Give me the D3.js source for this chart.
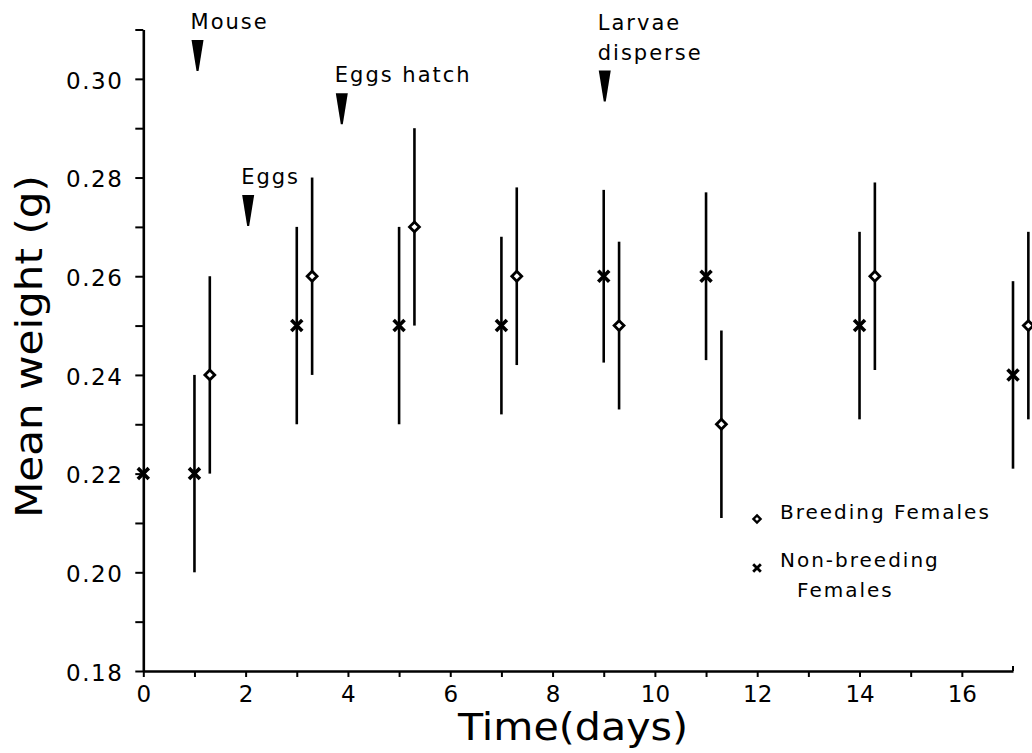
<!DOCTYPE html>
<html>
<head>
<meta charset="utf-8">
<script src="https://cdn.jsdelivr.net/npm/d3@7"></script>
<style>
  html, body { margin: 0; padding: 0; background: #fff; }
  svg { display: block; }
  text { font-family: "DejaVu Sans", sans-serif; fill: #000; }
</style>
</head>
<body>
<svg id="chart" width="1032" height="753"></svg>
<script>
// Mean body weight of females over time (days), with error bars
const nonBreedDays  = [0, 1, 3, 5, 7, 9, 11, 14, 17];
const nonBreedMean  = [0.22, 0.22, 0.25, 0.25, 0.25, 0.26, 0.26, 0.25, 0.24];
const nonBreedErr   = [0, 0.02, 0.02, 0.02, 0.018, 0.0175, 0.017, 0.019, 0.019];

const breedDays     = [1.3, 3.3, 5.3, 7.3, 9.3, 11.3, 14.3, 17.3];
const breedMean     = [0.24, 0.26, 0.27, 0.26, 0.25, 0.23, 0.26, 0.25];
const breedErr      = [0.02, 0.02, 0.02, 0.018, 0.017, 0.019, 0.019, 0.019];

const xTickLabels   = [0, 2, 4, 6, 8, 10, 12, 14, 16];
const yTickLabels   = [0.18, 0.20, 0.22, 0.24, 0.26, 0.28, 0.30];

// Event markers: label lines, day, and value at the arrow tip
const eventLabels   = [["Mouse"], ["Eggs"], ["Eggs hatch"], ["Larvae", "disperse"]];
const eventDays     = [1.06, 2.05, 3.88, 9.02];
const eventTips     = [0.3016, 0.2702, 0.2908, 0.2954];

const svg = d3.select("#chart");

const x = d3.scaleLinear().domain([0, 17]).range([143.3, 1013]);
const y = d3.scaleLinear().domain([0.18, 0.31]).range([671, 29.5]);

const AXIS_W = 2.6;

// ---- axes ----
const xAxis = d3.axisBottom(x)
  .tickValues(d3.range(0, 17))
  .tickSize(6).tickSizeOuter(0)
  .tickFormat(d => xTickLabels.includes(d) ? d : "");
const gx = svg.append("g").attr("transform", `translate(0,${y(0.18)})`).call(xAxis);
gx.select(".domain").attr("stroke", "#000").attr("stroke-width", AXIS_W);
gx.selectAll(".tick line").attr("stroke", "#000").attr("stroke-width", 2);
gx.selectAll(".tick text")
  .attr("y", 15)
  .style("font-size", "23px")
  .style("font-family", "'DejaVu Sans', sans-serif");
// end tick at day 17 pointing up
svg.append("line")
  .attr("x1", x(17)).attr("x2", x(17))
  .attr("y1", y(0.18)).attr("y2", y(0.18) - 5)
  .attr("stroke", "#000").attr("stroke-width", 2);

const yTicks = d3.range(18, 32).map(v => v / 100);
const yAxis = d3.axisLeft(y)
  .tickValues(yTicks)
  .tickSize(8).tickSizeOuter(0)
  .tickFormat(d => yTickLabels.some(v => Math.abs(v - d) < 1e-9) ? d3.format(".2f")(d) : "");
const gy = svg.append("g").attr("transform", `translate(${x(0)},0)`).call(yAxis);
gy.select(".domain").attr("stroke", "#000").attr("stroke-width", AXIS_W);
gy.selectAll(".tick line").attr("stroke", "#000").attr("stroke-width", 2);
gy.selectAll(".tick text")
  .attr("x", -20)
  .attr("dy", "0.4em")
  .style("font-size", "23px")
  .style("letter-spacing", "1.5px")
  .style("font-family", "'DejaVu Sans', sans-serif");

// ---- axis titles ----
svg.append("text")
  .attr("x", 458).attr("y", 740)
  .attr("textLength", 230).attr("lengthAdjust", "spacingAndGlyphs")
  .style("font-size", "37px")
  .text("Time(days)");

svg.append("text")
  .attr("transform", "translate(42,346.5) rotate(-90)")
  .attr("text-anchor", "middle")
  .attr("textLength", 343).attr("lengthAdjust", "spacingAndGlyphs")
  .style("font-size", "38px")
  .text("Mean weight (g)");

// ---- error bars ----
function errorBars(days, mean, err) {
  svg.append("g").selectAll("line")
    .data(days.map((d, i) => ({ d, m: mean[i], e: err[i] })).filter(p => p.e > 0))
    .join("line")
    .attr("x1", p => x(p.d)).attr("x2", p => x(p.d))
    .attr("y1", p => y(p.m - p.e)).attr("y2", p => y(p.m + p.e))
    .attr("stroke", "#000").attr("stroke-width", 2.6);
}
errorBars(nonBreedDays, nonBreedMean, nonBreedErr);
errorBars(breedDays, breedMean, breedErr);

// ---- markers ----
const crossSym = d3.symbol(d3.symbolTimes, 80);
const diamondSym = d3.symbol(d3.symbolDiamond2, 62);

svg.append("g").selectAll("path")
  .data(nonBreedDays.map((d, i) => ({ d, m: nonBreedMean[i] })))
  .join("path")
  .attr("d", crossSym)
  .attr("transform", p => `translate(${x(p.d)},${y(p.m)})`)
  .attr("fill", "none").attr("stroke", "#000").attr("stroke-width", 3.6);

svg.append("g").selectAll("path")
  .data(breedDays.map((d, i) => ({ d, m: breedMean[i] })))
  .join("path")
  .attr("d", diamondSym)
  .attr("transform", p => `translate(${x(p.d)},${y(p.m)})`)
  .attr("fill", "#fff").attr("stroke", "#000").attr("stroke-width", 2.8);

// ---- event arrows and labels ----
const ARROW_H = 31, ARROW_W = 12;
eventLabels.forEach((lines, i) => {
  const ax = x(eventDays[i]);
  const tip = y(eventTips[i]);
  const top = tip - ARROW_H;
  svg.append("path")
    .attr("d", `M${ax - ARROW_W / 2},${top} L${ax + ARROW_W / 2},${top} L${ax + 1},${tip} L${ax - 1},${tip} Z`)
    .attr("fill", "#000");
  const n = lines.length;
  lines.forEach((t, j) => {
    svg.append("text")
      .attr("x", ax - 7)
      .attr("y", top - 11 - (n - 1 - j) * 30)
      .style("font-size", "21px")
      .style("letter-spacing", "2px")
      .text(t);
  });
});

// ---- legend ----
const legend = svg.append("g");
legend.append("path")
  .attr("d", d3.symbol(d3.symbolDiamond2, 32))
  .attr("transform", "translate(757,519)")
  .attr("fill", "#fff").attr("stroke", "#000").attr("stroke-width", 2.4);
legend.append("text")
  .attr("x", 780).attr("y", 519)
  .style("font-size", "20px").style("letter-spacing", "2px")
  .text("Breeding Females");

legend.append("path")
  .attr("d", d3.symbol(d3.symbolTimes, 40))
  .attr("transform", "translate(757,568)")
  .attr("fill", "none").attr("stroke", "#000").attr("stroke-width", 2.8);
legend.append("text")
  .attr("x", 780).attr("y", 567)
  .style("font-size", "20px").style("letter-spacing", "2px")
  .text("Non-breeding");
legend.append("text")
  .attr("x", 797).attr("y", 597)
  .style("font-size", "20px").style("letter-spacing", "2px")
  .text("Females");
</script>
</body>
</html>
